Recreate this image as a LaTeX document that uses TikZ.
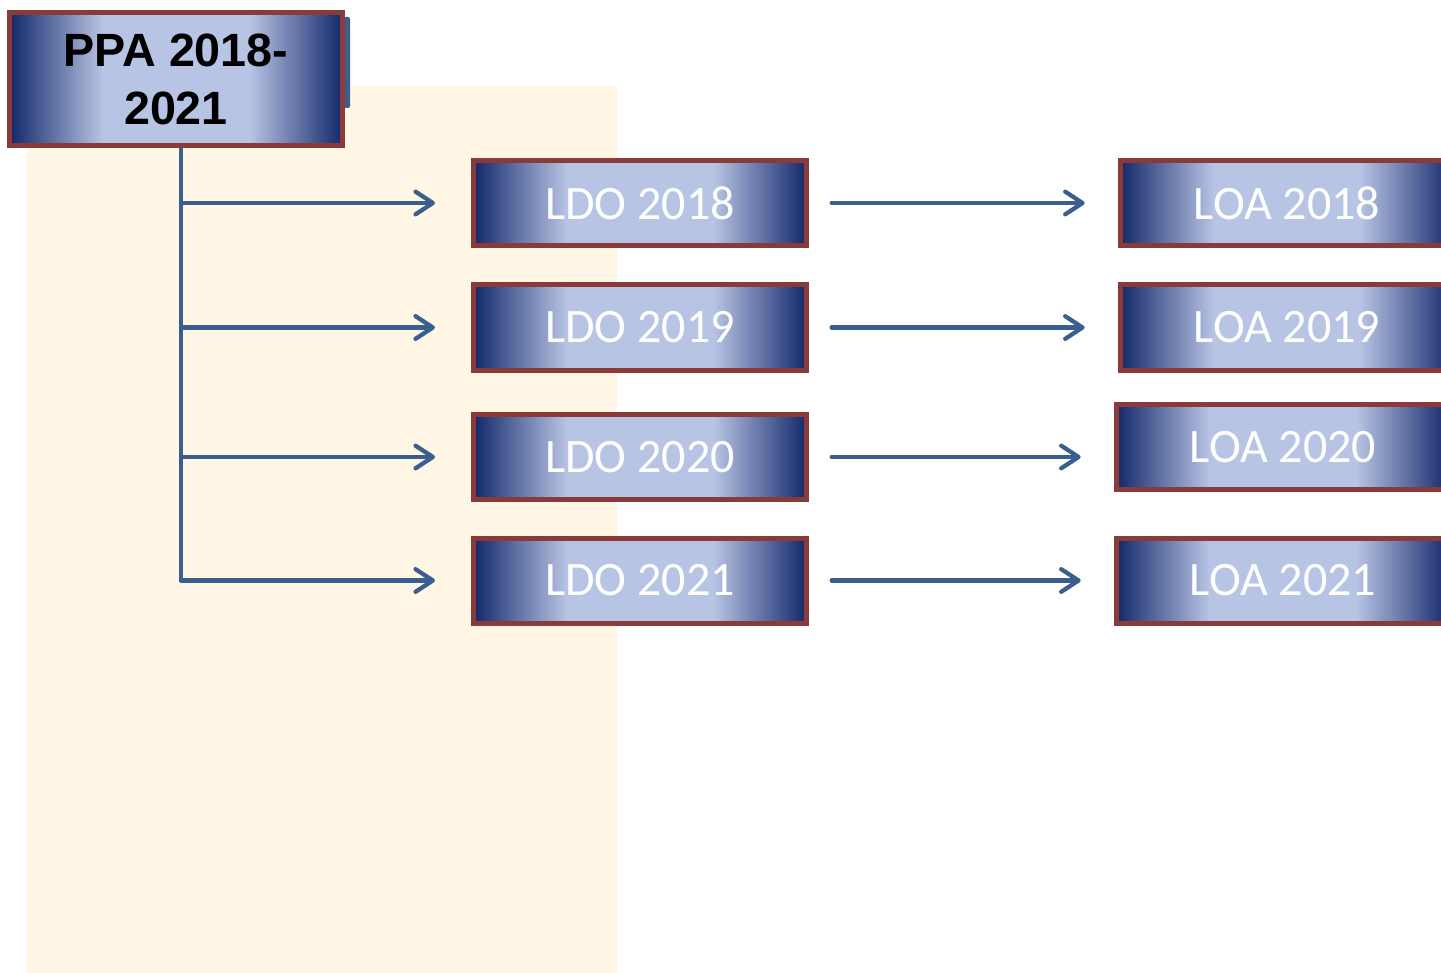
\documentclass[tikz,border=0pt]{standalone}
\usepackage{fontspec}
\setmainfont{Carlito}
\newfontfamily\ppafont{Liberation Sans}
\usetikzlibrary{arrows.meta,positioning,calc}

\definecolor{boxnavy}{HTML}{13286A}
\definecolor{boxlight}{HTML}{B8C4E4}
\definecolor{boxrim}{HTML}{8B3A3A}
\definecolor{linkblue}{HTML}{3A5F8F}
\definecolor{cream}{HTML}{FFF6E6}

% the node box is mapped onto the middle 50bp of the shading
\pgfdeclarehorizontalshading{boxshade}{100bp}{color(0bp)=(boxnavy); color(25bp)=(boxnavy); color(39bp)=(boxlight); color(61bp)=(boxlight); color(75bp)=(boxnavy); color(100bp)=(boxnavy)}

\tikzset{
  yearbox/.style={draw=boxrim, line width=3.75pt, shading=boxshade, inner sep=0pt,
    minimum width=249.75pt, minimum height=63.75pt, text=white, font=\fontsize{36}{40}\selectfont},
  ppabox/.style={yearbox, minimum height=99.75pt, text=black, align=center,
    font=\ppafont\bfseries\fontsize{35}{43.5}\selectfont},
  link/.style={draw=linkblue, line width=3.2pt},
  arr/.style={link, line cap=round, -{Straight Barb[length=13pt, width=17pt, line width=3.2pt, round]}},
}

\begin{document}
\begin{tikzpicture}[x=0.75pt,y=0.75pt,yscale=-1,xscale=1]
\useasboundingbox (0,0) rectangle (1441,973);

% background panel
\fill[cream] (27,86) rectangle (617,973);

% PPA box with its shadow tab
\fill[linkblue, rounded corners=1.5pt] (338,17) rectangle (350,108);
\node[ppabox] (ppa) at (176,79) {PPA 2018-\\2021};
\coordinate (trunk) at (181,148);

% LDO column
\node[yearbox] (ldo18) at (640,203) {LDO 2018};
\node[yearbox] (ldo19) at (640,327.5) {LDO 2019};
\node[yearbox] (ldo20) at (640,457) {LDO 2020};
\node[yearbox] (ldo21) at (640,580.5) {LDO 2021};

% LOA column
\node[yearbox] (loa18) at (1287,203) {LOA 2018};
\node[yearbox] (loa19) at (1287,327.5) {LOA 2019};
\node[yearbox] (loa20) at (1283,447) {LOA 2020};
\node[yearbox] (loa21) at (1283,580.5) {LOA 2021};

% trunk and branches
\draw[link] (trunk) -- (trunk |- ldo21.west);
\foreach \n in {ldo18,ldo19,ldo20,ldo21}
  \draw[arr, shorten >=27pt] (trunk |- \n.west) -- (\n.west);

% LDO to LOA
\foreach \a/\b in {ldo18/loa18,ldo19/loa19,ldo20/loa20,ldo21/loa21}
  \draw[arr, shorten <=17pt, shorten >=25pt] (\a.east) -- (\a.east -| \b.west);
\end{tikzpicture}
\end{document}
